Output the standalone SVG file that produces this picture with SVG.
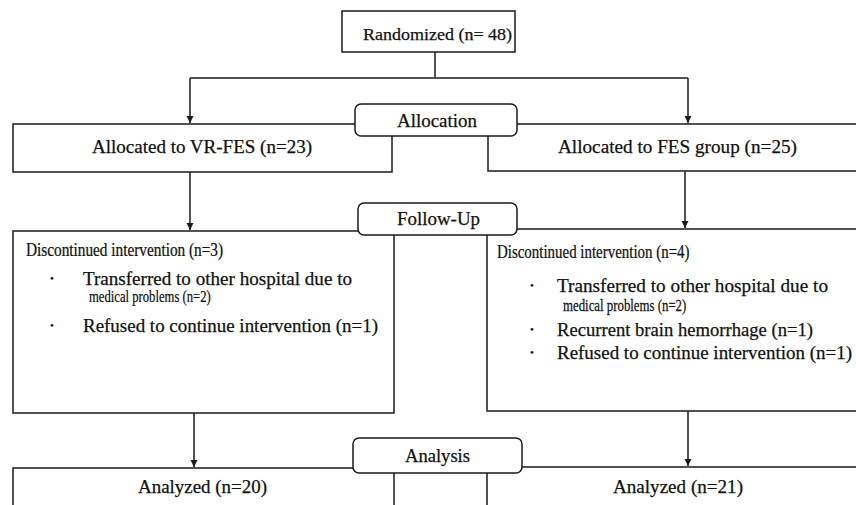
<svg xmlns="http://www.w3.org/2000/svg" width="856" height="505" viewBox="0 0 856 505" font-family="'Liberation Serif', 'Times New Roman', serif">
<defs>
<style>
.box{fill:#fff;stroke:#1a1a1a;stroke-width:1.5}
.lbl{fill:#fff;stroke:#1a1a1a;stroke-width:1.5}
.ln{fill:none;stroke:#1a1a1a;stroke-width:1.5}
text{font-family:"Liberation Serif","Times New Roman",serif;fill:#111;stroke:#111;stroke-width:0.25}
.b{font-size:11px}
</style>
<marker id="ah" viewBox="0 0 10 10" refX="10" refY="5" markerWidth="7" markerHeight="8" markerUnits="userSpaceOnUse" orient="auto">
<path d="M0,0 L10,5 L0,10 z" fill="#1a1a1a"/>
</marker>
</defs>
<rect width="856" height="505" fill="#fff"/>

<g id="randomized">
<rect class="box" x="342" y="11" width="173" height="41"/>
<text x="363" y="40" font-size="17.5" textLength="149" lengthAdjust="spacingAndGlyphs">Randomized (n= 48)</text>
</g>

<g id="connectors">
<path class="ln" d="M435,52 V77.5"/>
<path class="ln" d="M190,78 H688"/>
<path class="ln" d="M190,78 V123" marker-end="url(#ah)"/>
<path class="ln" d="M688,78 V123" marker-end="url(#ah)"/>
<path class="ln" d="M190,172 V230" marker-end="url(#ah)"/>
<path class="ln" d="M685,171 V228" marker-end="url(#ah)"/>
<path class="ln" d="M194,413 V467" marker-end="url(#ah)"/>
<path class="ln" d="M688,411 V466" marker-end="url(#ah)"/>
</g>

<g id="vrfes">
<rect class="box" x="13" y="124" width="379" height="48"/>
<text x="92" y="153" font-size="19" textLength="220" lengthAdjust="spacingAndGlyphs">Allocated to VR-FES (n=23)</text>
</g>

<g id="fes">
<rect class="box" x="488" y="124" width="390" height="47"/>
<text x="558" y="153" font-size="19" textLength="239" lengthAdjust="spacingAndGlyphs">Allocated to FES group (n=25)</text>
</g>

<g id="allocation">
<rect class="lbl" x="355" y="104" width="162" height="32" rx="6"/>
<text x="397" y="127" font-size="18.5" textLength="80" lengthAdjust="spacingAndGlyphs">Allocation</text>
</g>

<g id="disc-left">
<rect class="box" x="13" y="231" width="381" height="182"/>
<text transform="translate(26,256) scale(0.85,1)" font-size="18">Discontinued intervention (n=3)</text>
<text class="b" x="50" y="282">•</text>
<text x="83" y="285" font-size="18.5" textLength="269" lengthAdjust="spacingAndGlyphs">Transferred to other hospital due to</text>
<text transform="translate(89,302) scale(0.745,1)" font-size="17">medical problems (n=2)</text>
<text class="b" x="50" y="329">•</text>
<text x="83" y="332" font-size="18.5" textLength="295" lengthAdjust="spacingAndGlyphs">Refused to continue intervention (n=1)</text>
</g>

<g id="disc-right">
<rect class="box" x="487" y="229" width="391" height="182"/>
<text transform="translate(497,258) scale(0.83,1)" font-size="18">Discontinued intervention (n=4)</text>
<text class="b" x="530" y="289">•</text>
<text x="557" y="292" font-size="18.5" textLength="271" lengthAdjust="spacingAndGlyphs">Transferred to other hospital due to</text>
<text transform="translate(563,311) scale(0.755,1)" font-size="17">medical problems (n=2)</text>
<text class="b" x="530" y="333">•</text>
<text x="557" y="336" font-size="18.5" textLength="256" lengthAdjust="spacingAndGlyphs">Recurrent brain hemorrhage (n=1)</text>
<text class="b" x="530" y="356">•</text>
<text x="557" y="359" font-size="18.5" textLength="295" lengthAdjust="spacingAndGlyphs">Refused to continue intervention (n=1)</text>
</g>

<g id="followup">
<rect class="lbl" x="358" y="203" width="159" height="32" rx="6"/>
<text x="397" y="225" font-size="18.5" textLength="83" lengthAdjust="spacingAndGlyphs">Follow-Up</text>
</g>

<g id="analyzed-left">
<rect class="box" x="13" y="468" width="381" height="60"/>
<text x="138" y="493" font-size="18.5" textLength="129" lengthAdjust="spacingAndGlyphs">Analyzed (n=20)</text>
</g>

<g id="analyzed-right">
<rect class="box" x="487" y="467" width="391" height="60"/>
<text x="613" y="493" font-size="18.5" textLength="130" lengthAdjust="spacingAndGlyphs">Analyzed (n=21)</text>
</g>

<g id="analysis">
<rect class="lbl" x="353" y="438" width="169" height="35" rx="6"/>
<text x="405" y="462" font-size="18" textLength="65" lengthAdjust="spacingAndGlyphs">Analysis</text>
</g>
</svg>
